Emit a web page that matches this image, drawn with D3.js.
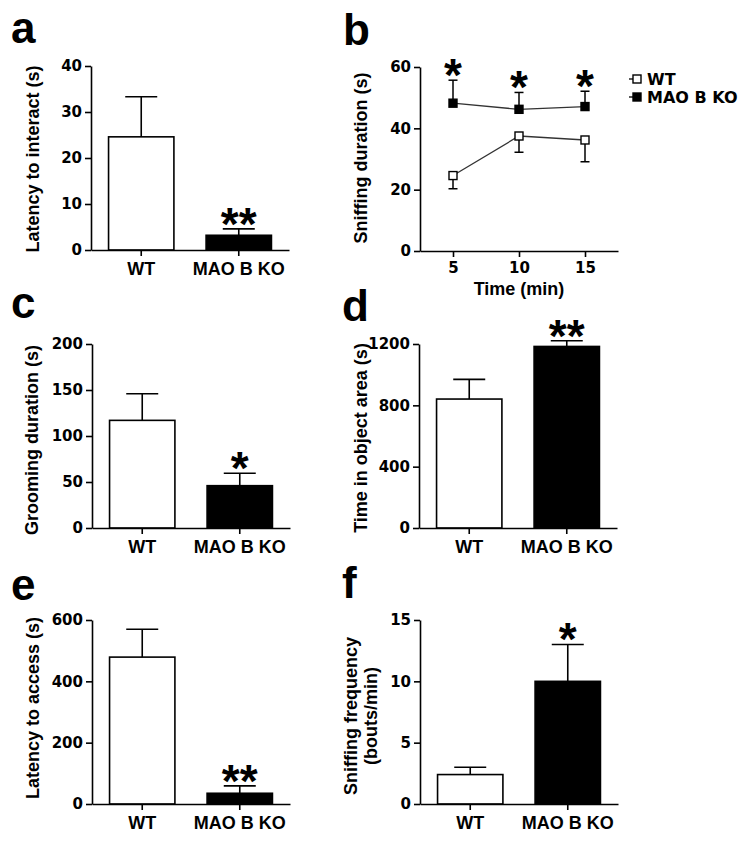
<!DOCTYPE html>
<html>
<head>
<meta charset="utf-8">
<script src="https://cdn.jsdelivr.net/npm/d3@7"></script>
<style>
  html, body { margin: 0; padding: 0; background: #fff; }
  svg { display: block; }
  .lbl { font-family: 'Liberation Sans', Arial, sans-serif; font-weight: bold; }
  .tick text { font-family: 'DejaVu Sans', sans-serif; font-weight: bold; font-size: 15px; fill: #000; }
  .xcat .tick text { font-family: 'Liberation Sans', Arial, sans-serif; font-size: 18px; }
</style>
</head>
<body>
<svg id="fig" width="754" height="842"></svg>
<script>
// ---------------- DATA ----------------
const groups = ["WT", "MAO B KO"];

const latencyInteract    = [24.6, 3.2];
const latencyInteractSem = [8.7, 1.4];
const latencyInteractTicks = [0, 10, 20, 30, 40];

const groomingDuration    = [117, 46];
const groomingDurationSem = [29, 13.5];
const groomingTicks = [0, 50, 100, 150, 200];

const timeObjectArea    = [841, 1184];
const timeObjectAreaSem = [128, 37];
const timeObjectTicks = [0, 400, 800, 1200];

const latencyAccess    = [479, 35];
const latencyAccessSem = [91, 24];
const latencyAccessTicks = [0, 200, 400, 600];

const sniffFreq    = [2.4, 10.0];
const sniffFreqSem = [0.6, 3.0];
const sniffFreqTicks = [0, 5, 10, 15];

const timePoints = [5, 10, 15];
const sniffWT    = [24.6, 37.5, 36.2];
const sniffWTSem = [4.3, 5.3, 7.1];
const sniffKO    = [48.2, 46.2, 47.1];
const sniffKOSem = [7.5, 5.5, 5.0];
const sniffDurTicks = [0, 20, 40, 60];
const seriesNames = ["WT", "MAO B KO"];
const sniffStars = ["*", "*", "*"];

// ---------------- DRAW ----------------
const svg = d3.select("#fig");
const H = 184, W = 198;
const fmt = d3.format("d");

function panelLetter(ch, x, y) {
  svg.append("text").attr("class", "lbl").attr("x", x).attr("y", y)
    .attr("font-size", 44).text(ch);
}
function yTitle(lines, x, cy) {
  lines.forEach((t, i) => {
    svg.append("text").attr("class", "lbl")
      .attr("transform", `translate(${x[i]},${cy}) rotate(-90)`)
      .attr("text-anchor", "middle").attr("font-size", 18).text(t);
  });
}
function star(txt, cx, cy) {
  svg.append("text").attr("class", "lbl").attr("x", cx).attr("y", cy + 0.56 * 46)
    .attr("text-anchor", "middle").attr("font-size", 46).text(txt);
}
function styleAxis(g) {
  g.selectAll("path.domain, line").attr("stroke", "#000").attr("stroke-width", 1.6);
}

function barPanel(ax, y0, vals, sems, ticks, sig) {
  const x = d3.scaleBand().domain(groups).range([ax, ax + W])
    .paddingInner(0.33).paddingOuter(0.18);
  const y = d3.scaleLinear().domain([0, ticks[ticks.length - 1]]).range([y0, y0 - H]);
  const g = svg.append("g");
  g.selectAll("rect.bar").data(groups).enter().append("rect")
    .attr("x", d => x(d)).attr("width", x.bandwidth())
    .attr("y", (d, i) => y(vals[i])).attr("height", (d, i) => y0 - y(vals[i]))
    .attr("fill", (d, i) => i === 0 ? "#fff" : "#000")
    .attr("stroke", "#000").attr("stroke-width", 1.6);
  groups.forEach((d, i) => {
    const cx = x(d) + x.bandwidth() / 2;
    g.append("line").attr("x1", cx).attr("x2", cx)
      .attr("y1", y(vals[i])).attr("y2", y(vals[i] + sems[i]))
      .attr("stroke", "#000").attr("stroke-width", 1.6);
    g.append("line").attr("x1", cx - 16).attr("x2", cx + 16)
      .attr("y1", y(vals[i] + sems[i])).attr("y2", y(vals[i] + sems[i]))
      .attr("stroke", "#000").attr("stroke-width", 1.6);
  });
  const gy = svg.append("g").attr("transform", `translate(${ax},0)`)
    .call(d3.axisLeft(y).tickValues(ticks).tickFormat(fmt).tickSize(6).tickSizeOuter(0).tickPadding(3));
  styleAxis(gy);
  const gx = svg.append("g").attr("class", "xcat").attr("transform", `translate(0,${y0})`)
    .call(d3.axisBottom(x).tickSize(6).tickSizeOuter(0).tickPadding(6));
  styleAxis(gx);
  const ci = 1;
  star(sig, x(groups[ci]) + x.bandwidth() / 2, y(vals[ci] + sems[ci]) - 15);
}

// Panel a
panelLetter("a", 11, 43);
barPanel(91, 250, latencyInteract, latencyInteractSem, latencyInteractTicks, "**");
yTitle(["Latency to interact (s)"], [39], 159);

// Panel c
panelLetter("c", 11, 318);
barPanel(92, 528, groomingDuration, groomingDurationSem, groomingTicks, "*");
yTitle(["Grooming duration (s)"], [38], 440);

// Panel d
panelLetter("d", 342, 321);
barPanel(419, 528, timeObjectArea, timeObjectAreaSem, timeObjectTicks, "**");
yTitle(["Time in object area (s)"], [367], 438);

// Panel e
panelLetter("e", 11, 600);
barPanel(92, 804, latencyAccess, latencyAccessSem, latencyAccessTicks, "**");
yTitle(["Latency to access (s)"], [39], 708);

// Panel f
panelLetter("f", 342, 598);
barPanel(420, 804, sniffFreq, sniffFreqSem, sniffFreqTicks, "*");
yTitle(["Sniffing frequency", "(bouts/min)"], [357, 377], 716);

// Panel b (line chart)
(function () {
  const ax = 420, y0 = 251;
  panelLetter("b", 343, 45);
  const x = d3.scaleLinear().domain([2.5, 17.5]).range([ax, ax + W]);
  const y = d3.scaleLinear().domain([0, 60]).range([y0, y0 - H]);
  const g = svg.append("g");
  const line = d3.line().x((d, i) => x(timePoints[i])).y(d => y(d));
  [sniffWT, sniffKO].forEach(s => {
    g.append("path").datum(s).attr("d", line).attr("fill", "none")
      .attr("stroke", "#333").attr("stroke-width", 1.3);
  });
  const ebar = (vals, sems, dir) => {
    vals.forEach((v, i) => {
      const cx = x(timePoints[i]);
      const ye = y(v + dir * sems[i]);
      g.append("line").attr("x1", cx).attr("x2", cx).attr("y1", y(v)).attr("y2", ye)
        .attr("stroke", "#000").attr("stroke-width", 1.5);
      g.append("line").attr("x1", cx - 4.5).attr("x2", cx + 4.5).attr("y1", ye).attr("y2", ye)
        .attr("stroke", "#000").attr("stroke-width", 1.5);
    });
  };
  ebar(sniffKO, sniffKOSem, 1);
  ebar(sniffWT, sniffWTSem, -1);
  const sq = 8;
  [[sniffWT, "#fff"], [sniffKO, "#000"]].forEach(([s, fill]) => {
    g.selectAll(null).data(s).enter().append("rect")
      .attr("x", (d, i) => x(timePoints[i]) - sq / 2).attr("y", d => y(d) - sq / 2)
      .attr("width", sq).attr("height", sq)
      .attr("fill", fill).attr("stroke", "#000").attr("stroke-width", 1.4);
  });
  const gy = svg.append("g").attr("transform", `translate(${ax},0)`)
    .call(d3.axisLeft(y).tickValues(sniffDurTicks).tickFormat(fmt).tickSize(6).tickSizeOuter(0).tickPadding(3));
  styleAxis(gy);
  const gx = svg.append("g").attr("transform", `translate(0,${y0})`)
    .call(d3.axisBottom(x).tickValues(timePoints).tickFormat(fmt).tickSize(6).tickSizeOuter(0).tickPadding(5));
  styleAxis(gx);
  svg.append("text").attr("class", "lbl").attr("x", ax + W / 2).attr("y", 295)
    .attr("text-anchor", "middle").attr("font-size", 18).text("Time (min)");
  yTitle(["Sniffing duration (s)"], [367], 158);
  timePoints.forEach((t, i) => {
    star(sniffStars[i], x(t), y(sniffKO[i] + sniffKOSem[i]) - 15);
  });
  const lg = svg.append("g");
  [["#fff", 79], ["#000", 97]].forEach(([fill, cy], i) => {
    lg.append("line").attr("x1", 629).attr("x2", 637).attr("y1", cy).attr("y2", cy)
      .attr("stroke", "#000").attr("stroke-width", 1.3);
    lg.append("rect").attr("x", 633).attr("y", cy - 4).attr("width", 8).attr("height", 8)
      .attr("fill", fill).attr("stroke", "#000").attr("stroke-width", 1.4);
    lg.append("text").attr("x", 647).attr("y", cy + 6)
      .style("font-family", "'DejaVu Sans', sans-serif").style("font-weight", "bold")
      .attr("font-size", 16).text(seriesNames[i]);
  });
})();
</script>
</body>
</html>
